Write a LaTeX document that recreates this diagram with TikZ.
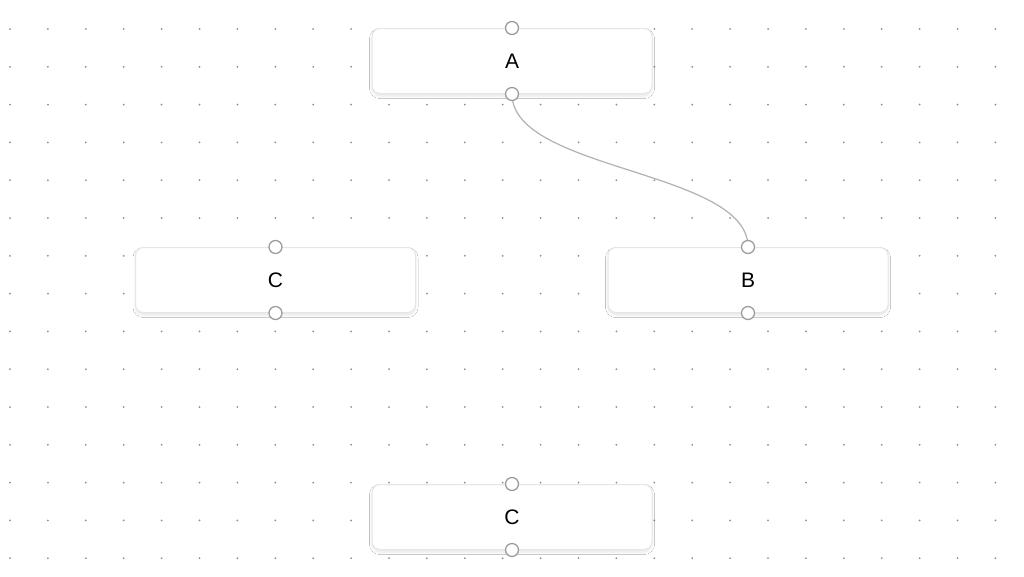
\documentclass[tikz,border=0pt]{standalone}
\usepackage{fontspec}
\setmainfont{Liberation Sans}
\usetikzlibrary{shadows.blur}
\definecolor{dotc}{HTML}{8E8E96}
\definecolor{boxline}{HTML}{E6E6E6}
\definecolor{handlec}{HTML}{9E9E9E}
\definecolor{edgec}{HTML}{B1B1B7}
\tikzset{
  flownode/.style={draw=boxline, line width=1pt, fill=white, rounded corners=8pt,
    minimum width=280pt, minimum height=65pt, inner sep=0pt,
    font=\fontsize{21}{24}\selectfont,
    blur shadow={shadow xshift=0pt, shadow yshift=-2.5pt, shadow blur radius=2.5pt, shadow blur steps=8, shadow opacity=10}},
  handle/.style={circle, draw=handlec, line width=1.3pt, fill=white, minimum size=13pt, inner sep=0pt},
  flowedge/.style={draw=edgec, line width=1.2pt}
}
\begin{document}
\begin{tikzpicture}[x=1pt,y=-1pt]
\useasboundingbox[fill=white] (0,0) rectangle (1024,576);
\foreach \i in {0,...,26}{
  \foreach \j in {0,...,14}{
    \fill[dotc] (10+\i*37.9, 29+\j*37.8) circle (1.0);
  }
}
\node[flownode] (A) at (512,61) {A};
\node[flownode] (C1) at (275.5,280) {C};
\node[flownode] (B) at (748,280) {B};
\node[flownode] (C2) at (512,517) {C};
\coordinate (Aout) at (A.south);
\coordinate (Bin) at (B.north);
\draw[flowedge] (Aout) .. controls +(0,77) and +(0,-77) .. (Bin);
\node[handle] (hAt) at (A.north) {};
\node[handle] (hAb) at (A.south) {};
\node[handle] (hC1t) at (C1.north) {};
\node[handle] (hC1b) at (C1.south) {};
\node[handle] (hBt) at (B.north) {};
\node[handle] (hBb) at (B.south) {};
\node[handle] (hC2t) at (C2.north) {};
\node[handle] (hC2b) at (C2.south) {};
\end{tikzpicture}
\end{document}
